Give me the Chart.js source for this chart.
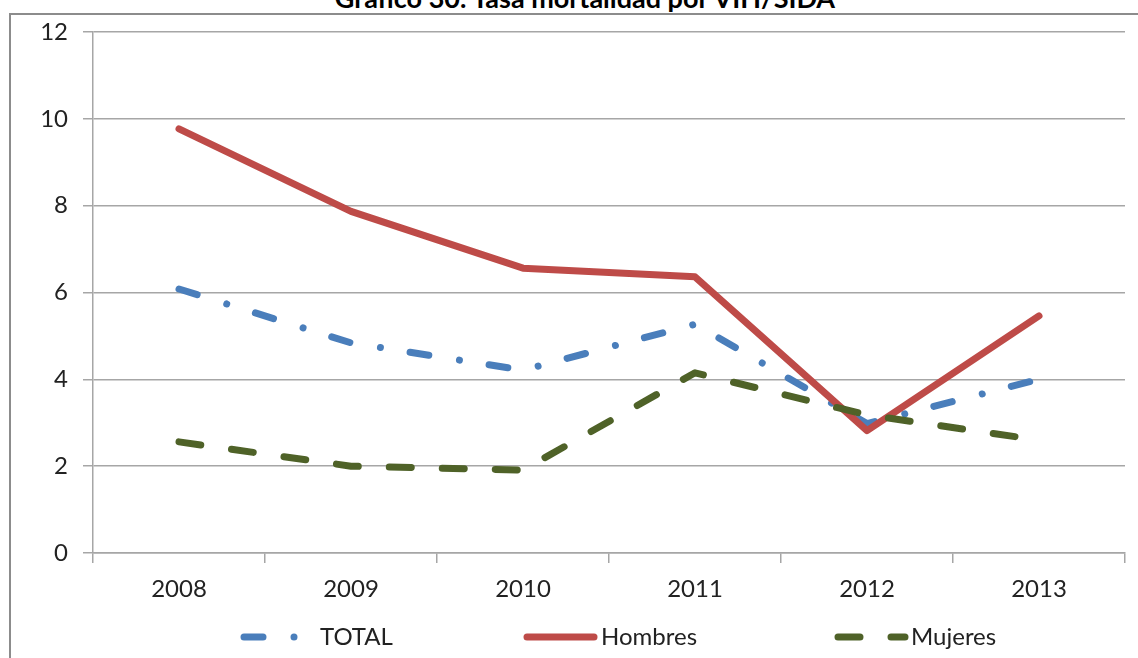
<!DOCTYPE html>
<html>
<head>
<meta charset="utf-8">
<script src="https://cdn.jsdelivr.net/npm/chart.js@4.4.1/dist/chart.umd.min.js"></script>
<style>
  html, body { margin: 0; padding: 0; background: #fff; overflow: hidden; }
  #frame { position: absolute; left: 9px; top: 13px; width: 2000px; height: 2000px;
           border: 2px solid #8c8c8c; box-sizing: border-box; }
  #title { position: absolute; left: 0; width: 1170px; top: -19px; text-align: center;
           font: bold 27px Lato, "Open Sans", sans-serif; color: #000; white-space: nowrap; }
  #wrap { position: absolute; left: 0; top: 0; width: 1138px; height: 658px; }
</style>
</head>
<body>
<div id="frame"></div>
<div id="title">Gráfico 30.  Tasa mortalidad por VIH/SIDA</div>
<div id="wrap"><canvas id="chart" width="1138" height="658"></canvas></div>
<script>
// Data
const years = ['2008', '2009', '2010', '2011', '2012', '2013'];
const total = [6.08, 4.84, 4.21, 5.27, 2.98, 4.0];
const hombres = [9.77, 7.87, 6.56, 6.36, 2.82, 5.46];
const mujeres = [2.56, 2.0, 1.91, 4.15, 3.18, 2.6];
const yTicks = [0, 2, 4, 6, 8, 10, 12];

const FONT = 'Lato, "Open Sans", sans-serif';
const AXIS_GREY = '#a6a6a6';

// Legend drawn below the axis labels, line samples keep each series' dash
const bottomLegend = {
  id: 'bottomLegend',
  afterDraw(chart) {
    const { ctx } = chart;
    const y = 637;
    const items = [
      { ds: 0, x0: 244, x1: 298, tx: 320 },
      { ds: 1, x0: 527, x1: 594, tx: 601 },
      { ds: 2, x0: 838, x1: 905, tx: 911 }
    ];
    ctx.save();
    items.forEach(it => {
      const ds = chart.data.datasets[it.ds];
      ctx.beginPath();
      ctx.setLineDash(ds.borderDash || []);
      ctx.lineCap = 'round';
      ctx.lineWidth = ds.borderWidth;
      ctx.strokeStyle = ds.borderColor;
      ctx.moveTo(it.x0, y);
      ctx.lineTo(it.x1, y);
      ctx.stroke();
      ctx.setLineDash([]);
      ctx.fillStyle = '#222';
      ctx.font = '24px ' + FONT;
      ctx.textBaseline = 'middle';
      ctx.textAlign = 'left';
      ctx.fillText(ds.label, it.tx, y);
    });
    ctx.restore();
  }
};

new Chart(document.getElementById('chart'), {
  type: 'line',
  data: {
    labels: years,
    datasets: [
      {
        label: 'TOTAL', data: total, order: 2,
        borderColor: '#4a7ebb', borderWidth: 7,
        borderDash: [19, 31, 0.01, 30], borderCapStyle: 'round', borderJoinStyle: 'round',
        pointRadius: 0, tension: 0, fill: false
      },
      {
        label: 'Hombres', data: hombres, order: 1,
        borderColor: '#be4b48', borderWidth: 7,
        borderCapStyle: 'round', borderJoinStyle: 'round',
        pointRadius: 0, tension: 0, fill: false
      },
      {
        label: 'Mujeres', data: mujeres, order: 0,
        borderColor: '#4f6228', borderWidth: 7,
        borderDash: [22, 31], borderCapStyle: 'round', borderJoinStyle: 'round',
        pointRadius: 0, tension: 0, fill: false
      }
    ]
  },
  options: {
    responsive: false,
    animation: false,
    layout: { padding: { left: 0, right: 13, top: 32, bottom: 0 } },
    plugins: {
      legend: { display: false },
      tooltip: { enabled: false },
      title: { display: false }
    },
    scales: {
      x: {
        offset: true,
        grid: { offset: true, drawOnChartArea: false, drawTicks: true, tickLength: 10,
                color: AXIS_GREY, lineWidth: 1.5 },
        border: { display: true, color: AXIS_GREY, width: 1.5 },
        ticks: { color: '#222', font: { family: FONT, size: 24 }, padding: 12, maxRotation: 0 },
        afterFit(scale) { scale.height = 105; }
      },
      y: {
        min: 0, max: 12,
        afterBuildTicks(scale) { scale.ticks = yTicks.map(v => ({ value: v })); },
        grid: { color: AXIS_GREY, lineWidth: 1.5, tickLength: 10 },
        border: { display: true, color: AXIS_GREY, width: 1.5 },
        ticks: { color: '#222', font: { family: FONT, size: 24 }, padding: 15 },
        afterFit(scale) { scale.width = 93; }
      }
    }
  },
  plugins: [bottomLegend]
});
</script>
</body>
</html>
